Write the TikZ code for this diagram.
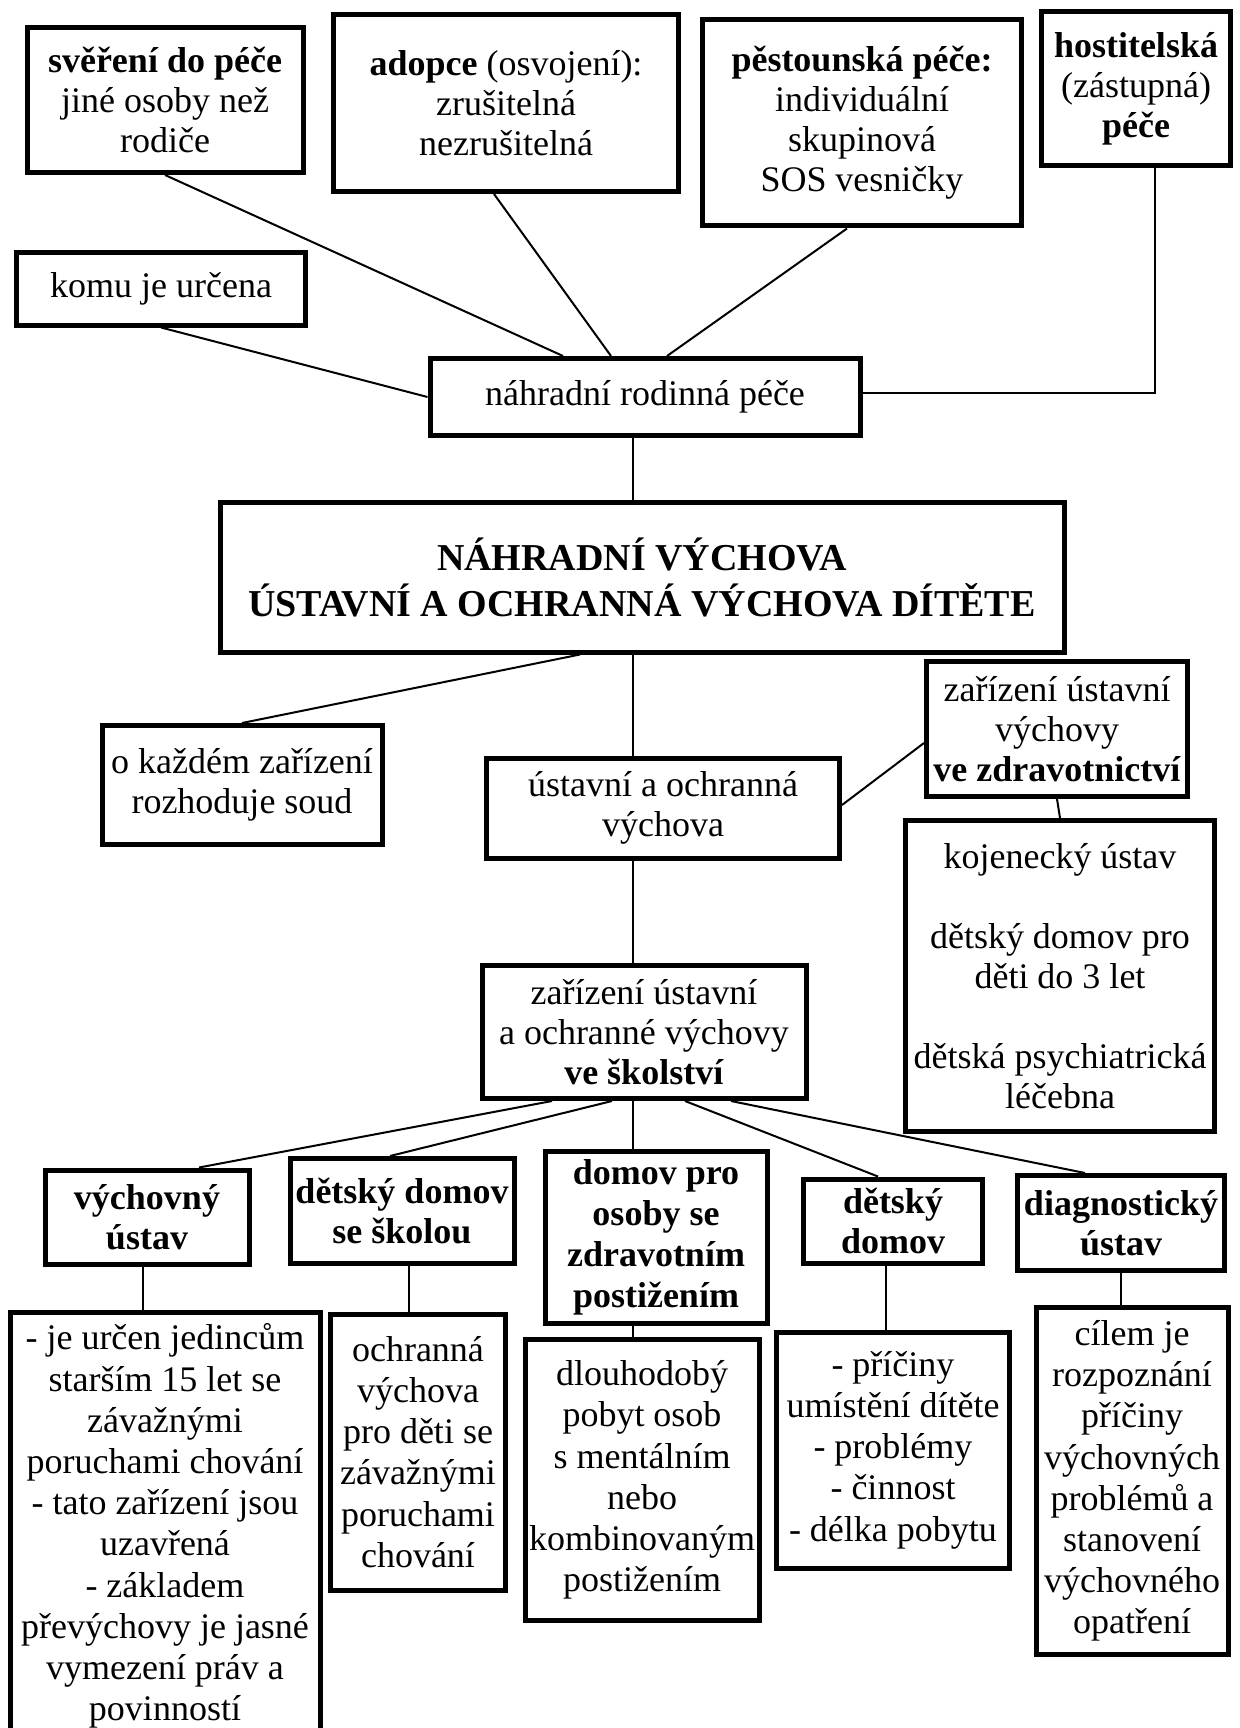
\documentclass[tikz,border=0pt]{standalone}
\usepackage{fontspec}
\setmainfont{Liberation Serif}
\usetikzlibrary{calc}

\tikzset{every picture/.style={line width=1pt}}
\tikzset{
  box/.style={draw, line width=2.5pt, align=center, inner sep=0pt, font=\fontsize{18}{20}\selectfont},
  link/.style={line width=1pt}
}

\begin{document}
\begin{tikzpicture}[x=0.5pt,y=0.5pt,yscale=-1,xscale=1]
\useasboundingbox (0,0) rectangle (1240,1728);
\coordinate (spine) at (633,0);

% Text Node
\node [box, minimum width=138pt, minimum height=72.5pt] (svereni) at (165,100) {\textbf{svěření do péče}\\jiné osoby než\\rodiče};
% Text Node
\node [box, minimum width=172.5pt, minimum height=88.5pt] (adopce) at (506,103) {\textbf{adopce} (osvojení):\\zrušitelná\\nezrušitelná};
% Text Node
\node [box, minimum width=159.5pt, minimum height=103pt] (pestoun) at (862,123) {\textbf{pěstounská péče:}\\individuální\\skupinová\\SOS vesničky};
% Text Node
\node [box, minimum width=94.5pt, minimum height=77pt] (hostitel) at (1136,89) {\textbf{hostitelská}\\(zástupná)\\\textbf{péče}};
% Text Node
\node [box, minimum width=144.5pt, minimum height=36pt] (komu) at (161,289) {komu je určena};
% Text Node
\node [box, minimum width=215pt, minimum height=38.5pt] (nahradni) at (645,397) {náhradní rodinná péče};
% Text Node
\node [box, minimum width=422pt, minimum height=75pt, font=\fontsize{19}{23}\selectfont\bfseries] (main) at (642,577) {NÁHRADNÍ VÝCHOVA\\ÚSTAVNÍ A OCHRANNÁ VÝCHOVA DÍTĚTE};
% Text Node
\node [box, minimum width=140pt, minimum height=59.5pt] (kazdem) at (242,785) {o každém zařízení\\rozhoduje soud};
% Text Node
\node [box, minimum width=176.5pt, minimum height=50pt] (ustavni) at (663,808) {ústavní a ochranná\\výchova};
% Text Node
\node [box, minimum width=130.5pt, minimum height=67.5pt] (zdrav) at (1057,729) {zařízení ústavní\\výchovy\\\textbf{ve zdravotnictví}};
% Text Node
\node [box, minimum width=154.5pt, minimum height=155.5pt] (kojen) at (1060,976) {kojenecký ústav\\[20pt]dětský domov pro\\děti do 3 let\\[20pt]dětská psychiatrická\\léčebna};
% Text Node
\node [box, minimum width=162pt, minimum height=66.5pt] (skolstvi) at (644,1032) {zařízení ústavní\\a ochranné výchovy\\\textbf{ve školství}};

% Text Node
\node [box, minimum width=102pt, minimum height=47pt, font=\fontsize{18}{20}\selectfont\bfseries] (vychovny) at (147,1217) {výchovný\\ústav};
% Text Node
\node [box, minimum width=112pt, minimum height=52.5pt, font=\fontsize{18}{20}\selectfont\bfseries] (ddskolou) at (402,1211) {dětský domov\\se školou};
% Text Node
\node [box, minimum width=111pt, minimum height=86pt, font=\fontsize{18}{20.5}\selectfont\bfseries] (domovpro) at (656,1237) {domov pro\\osoby se\\zdravotním\\postižením};
% Text Node
\node [box, minimum width=89.5pt, minimum height=42pt, font=\fontsize{18}{20}\selectfont\bfseries] (ddomov) at (893,1221) {dětský\\domov};
% Text Node
\node [box, minimum width=103.5pt, minimum height=47.5pt, font=\fontsize{18}{20}\selectfont\bfseries] (diagn) at (1121,1223) {diagnostický\\ústav};

% Text Node
\node [box, minimum width=155pt, minimum height=214pt, font=\fontsize{18}{20.6}\selectfont] (jeurcen) at (165,1526) {- je určen jedincům\\starším 15 let se\\závažnými\\poruchami chování\\- tato zařízení jsou\\uzavřená\\- základem\\převýchovy je jasné\\vymezení práv a\\povinností};
% Text Node
\node [box, minimum width=87.5pt, minimum height=138pt, font=\fontsize{18}{20.6}\selectfont] (ochranna) at (418,1452) {ochranná\\výchova\\pro děti se\\závažnými\\poruchami\\chování};
% Text Node
\node [box, minimum width=117pt, minimum height=140.5pt, font=\fontsize{18}{20.6}\selectfont] (dlouhodoby) at (642,1480) {dlouhodobý\\pobyt osob\\s mentálním\\nebo\\kombinovaným\\postižením};
% Text Node
\node [box, minimum width=116.5pt, minimum height=118pt, font=\fontsize{18}{20.6}\selectfont] (priciny) at (893,1450) {- příčiny\\umístění dítěte\\- problémy\\- činnost\\- délka pobytu};
% Text Node
\node [box, minimum width=96pt, minimum height=173.5pt, font=\fontsize{18}{20.6}\selectfont] (cilem) at (1132,1481) {cílem je\\rozpoznání\\příčiny\\výchovných\\problémů a\\stanovení\\výchovného\\opatření};

%Straight Lines
\draw [link] (svereni.south) -- ($(nahradni.north)+(-82,0)$);
\draw [link] ($(adopce.south)+(-12,0)$) -- ($(nahradni.north)+(-34,0)$);
\draw [link] ($(pestoun.south)+(-15,0)$) -- ($(nahradni.north)+(22,0)$);
\draw [link] ($(hostitel.south)+(19,0)$) |- ($(nahradni.east)+(0,-4)$);
\draw [link] (komu.south) -- (nahradni.west);
\draw [link] (nahradni.south -| spine) -- (main.north -| spine);

%Straight Lines
\draw [link] ($(main.south)+(-62,0)$) -- (kazdem.north);
\draw [link] (main.south -| spine) -- (ustavni.north -| spine);
\draw [link] ($(ustavni.east)+(0,-3)$) -- ($(zdrav.west)+(0,14)$);
\draw [link] (zdrav.south) -- (kojen.north);
\draw [link] (ustavni.south -| spine) -- (skolstvi.north -| spine);

%Straight Lines
\draw [link] ($(skolstvi.south)+(-92,0)$) -- ($(vychovny.north)+(52,0)$);
\draw [link] ($(skolstvi.south)+(-32,0)$) -- ($(ddskolou.north)+(-12,0)$);
\draw [link] (skolstvi.south -| spine) -- (domovpro.north -| spine);
\draw [link] ($(skolstvi.south)+(41,0)$) -- ($(ddomov.north)+(-15,0)$);
\draw [link] ($(skolstvi.south)+(87,0)$) -- ($(diagn.north)+(-36,0)$);

%Straight Lines
\draw [link] ($(vychovny.south)+(-4,0)$) -- ($(vychovny.south |- jeurcen.north)+(-4,0)$);
\draw [link] ($(ddskolou.south)+(7,0)$) -- ($(ddskolou.south |- ochranna.north)+(7,0)$);
\draw [link] (domovpro.south -| spine) -- (dlouhodoby.north -| spine);
\draw [link] ($(ddomov.south)+(-7,0)$) -- ($(ddomov.south |- priciny.north)+(-7,0)$);
\draw [link] (diagn.south) -- (diagn.south |- cilem.north);

\end{tikzpicture}
\end{document}
